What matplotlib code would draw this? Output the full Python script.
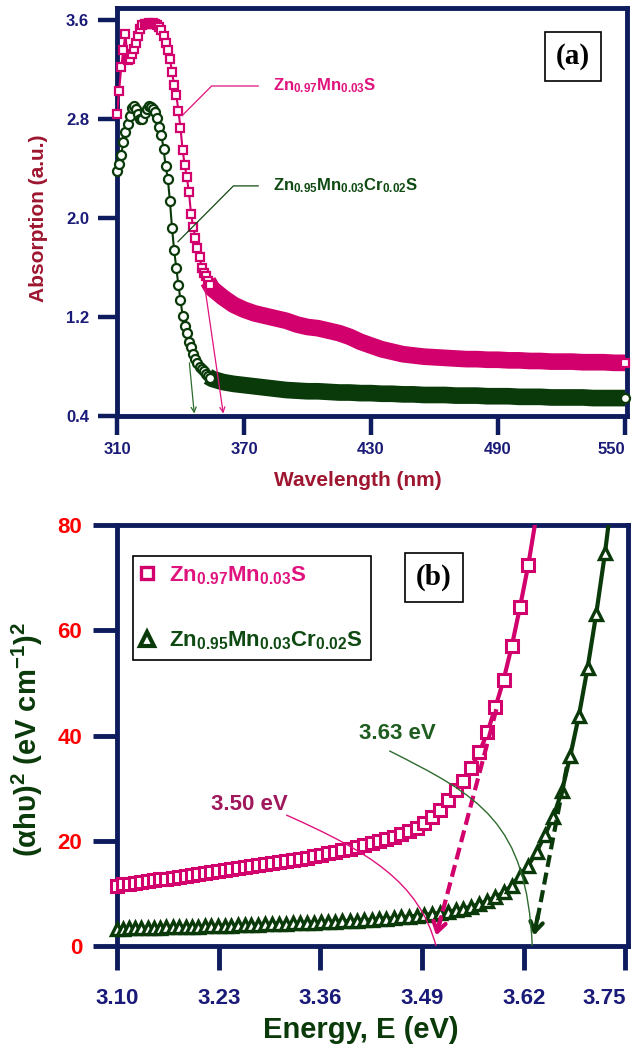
import matplotlib
matplotlib.use('Agg')
import matplotlib.pyplot as plt
from matplotlib.lines import Line2D
from matplotlib.path import Path
from matplotlib.patches import PathPatch
from matplotlib.ticker import FormatStrFormatter

plt.rcParams['font.family'] = ['Liberation Sans', 'DejaVu Sans']
plt.rcParams['font.weight'] = 'bold'
plt.rcParams['axes.labelweight'] = 'bold'
plt.rcParams['mathtext.fontset'] = 'custom'
plt.rcParams['mathtext.rm'] = 'Liberation Sans:bold'
plt.rcParams['mathtext.it'] = 'Liberation Sans:bold'
plt.rcParams['mathtext.bf'] = 'Liberation Sans:bold'
plt.rcParams['mathtext.default'] = 'rm'

# ---- panel (a): absorption spectra ----
wl_dense = list(range(310, 355))          # 1 nm steps near the edge
wl_tail = list(range(355, 551, 5))        # flat tail
wl_a = wl_dense + wl_tail

abs_mn = [2.84, 3.03, 3.22, 3.36, 3.49, 3.28, 3.29, 3.33, 3.37, 3.42,
          3.47, 3.53, 3.56, 3.57, 3.57, 3.58, 3.57, 3.58, 3.57, 3.56,
          3.55, 3.52, 3.47, 3.42, 3.36, 3.29, 3.18, 3.08, 3.00, 2.87,
          2.73, 2.55, 2.43, 2.33, 2.21, 2.03, 1.93, 1.84, 1.76, 1.69,
          1.60, 1.56, 1.53, 1.49, 1.46,
          1.43, 1.36, 1.30, 1.26, 1.23, 1.21, 1.19, 1.17, 1.14, 1.12,
          1.11, 1.09, 1.07, 1.04, 1.00, 0.97, 0.94, 0.92, 0.90, 0.89,
          0.88, 0.875, 0.87, 0.865, 0.86, 0.86, 0.855, 0.855, 0.85, 0.85,
          0.845, 0.845, 0.84, 0.84, 0.84, 0.835, 0.835, 0.835, 0.83, 0.83]

abs_mncr = [2.38, 2.44, 2.51, 2.62, 2.70, 2.76, 2.83, 2.89, 2.91, 2.88,
            2.84, 2.80, 2.80, 2.85, 2.88, 2.91, 2.90, 2.88, 2.86, 2.81,
            2.74, 2.67, 2.56, 2.42, 2.32, 2.14, 1.92, 1.74, 1.60, 1.46,
            1.34, 1.21, 1.13, 1.07, 1.00, 0.96, 0.90, 0.86, 0.83, 0.80,
            0.78, 0.76, 0.74, 0.72, 0.71,
            0.70, 0.675, 0.66, 0.65, 0.64, 0.63, 0.62, 0.61, 0.605, 0.60,
            0.60, 0.595, 0.59, 0.59, 0.585, 0.585, 0.58, 0.58, 0.575, 0.575,
            0.57, 0.57, 0.57, 0.565, 0.565, 0.565, 0.56, 0.56, 0.56, 0.555,
            0.555, 0.555, 0.55, 0.55, 0.55, 0.55, 0.545, 0.545, 0.545, 0.545]

xticks_a = [310, 370, 430, 490, 550]
yticks_a = [0.4, 1.2, 2.0, 2.8, 3.6]

# ---- panel (b): Tauc plot, (alpha h nu)^2 vs energy ----
wl_b_mn = list(range(400, 340, -1))
wl_b_mncr = list(range(400, 331, -1))
e_mn = [1240.0 / w for w in wl_b_mn]
e_mncr = [1240.0 / w for w in wl_b_mncr]

tauc_mn = [11.5, 11.7, 11.8, 12.0, 12.2, 12.3, 12.5, 12.7, 12.8, 13.0,
           13.2, 13.4, 13.5, 13.7, 13.9, 14.0, 14.2, 14.4, 14.6, 14.8,
           15.0, 15.2, 15.4, 15.6, 15.8, 16.0, 16.2, 16.4, 16.6, 16.8,
           17.1, 17.3, 17.6, 17.9, 18.2, 18.5, 18.8, 19.2, 19.5, 19.9,
           20.3, 20.7, 21.2, 21.8, 22.5, 23.3, 24.6, 25.9, 27.8, 29.7,
           31.3, 33.9, 36.8, 40.6, 45.4, 50.6, 57.0, 64.4, 72.4, 82.0]

tauc_mncr = [3.3, 3.3, 3.35, 3.4, 3.4, 3.45, 3.5, 3.5, 3.55, 3.6,
             3.6, 3.65, 3.7, 3.7, 3.75, 3.8, 3.85, 3.85, 3.9, 3.95,
             4.0, 4.0, 4.05, 4.1, 4.15, 4.2, 4.25, 4.3, 4.35, 4.4,
             4.45, 4.5, 4.55, 4.6, 4.7, 4.75, 4.8, 4.9, 5.0, 5.1,
             5.2, 5.3, 5.45, 5.6, 5.75, 5.9, 6.1, 6.3, 6.5, 6.8,
             7.1, 7.5, 8.0, 8.6, 9.3, 10.2, 11.5, 13.4, 15.3, 17.9,
             21.1, 24.6, 29.4, 36.2, 43.8, 52.8, 63.1, 74.6, 88.0]

xticks_b = [3.10, 3.23, 3.36, 3.49, 3.62, 3.75]
yticks_b = [0, 20, 40, 60, 80]

lab_mn = r'Zn$_{0.97}$Mn$_{0.03}$S'
lab_mncr = r'Zn$_{0.95}$Mn$_{0.03}$Cr$_{0.02}$S'

pink = '#D2006C'
pink_txt = '#E0127E'
green = '#0A3A0A'
green_txt = '#0F4A12'
navy = '#0E1C5E'
maroon = '#9E1630'

fig = plt.figure(figsize=(6.41, 10.5), dpi=100)
ax1 = fig.add_axes([0.1825, 0.6038, 0.7956, 0.3886])
ax2 = fig.add_axes([0.1825, 0.0990, 0.7972, 0.4010])

for ax in (ax1, ax2):
    for s in ax.spines.values():
        s.set_linewidth(3.5)
        s.set_color(navy)

# ---------- (a) ----------
n = len(wl_dense)
last = len(wl_a) - 1
ax1.plot(wl_a[n - 2:], abs_mn[n - 2:], color=pink, lw=12, solid_capstyle='butt', zorder=2)
ax1.plot(wl_a[n - 2:], abs_mncr[n - 2:], color=green, lw=12, solid_capstyle='butt', zorder=2)
ax1.plot(wl_a[:n], abs_mn[:n], color=pink, lw=1.5, zorder=3)
ax1.plot(wl_a[:n], abs_mncr[:n], color=green, lw=1.5, zorder=3)
ax1.plot(wl_a, abs_mn, ls='none', marker='s', ms=6, mfc='white', mec=pink, mew=1.6,
         markevery=list(range(n)) + [last], clip_on=False, zorder=4)
ax1.plot(wl_a, abs_mncr, ls='none', marker='o', ms=6.5, mfc='white', mec=green, mew=1.6,
         markevery=list(range(n)) + [last], clip_on=False, zorder=4)

ax1.set_xlim(310, 550.9)
ax1.set_ylim(0.4, 3.7)
ax1.set_xticks(xticks_a)
ax1.set_yticks(yticks_a)
ax1.yaxis.set_major_formatter(FormatStrFormatter('%.1f'))
ax1.tick_params(direction='out', length=14, width=3.2, color=navy, labelcolor='#1A1A78',
                labelsize=12)
ax1.tick_params(axis='y', pad=6)
ax1.tick_params(axis='x', pad=5)
ax1.get_xticklabels()[-1].set_ha('right')

ax1.set_ylabel('Absorption (a.u.)', color=maroon, fontsize=15)
ax1.set_xlabel('Wavelength (nm)', color=maroon, fontsize=15)
ax1.yaxis.set_label_coords(-0.153, 0.485)
ax1.xaxis.set_label_coords(0.4725, -0.157)
ax1.yaxis.label.set_va('center')
ax1.xaxis.label.set_va('center')

# labels with leader lines and band-edge arrows
ax1.plot([376.7, 354.7, 340.8], [3.069, 3.069, 2.83], color=pink_txt, lw=0.9, zorder=5)
ax1.plot([376.7, 365.0, 338.8], [2.261, 2.261, 1.81], color=green_txt, lw=0.9, zorder=5)
ax1.annotate('', xy=(360.2, 0.42), xytext=(351.6, 1.43),
             arrowprops=dict(arrowstyle='->', color=pink_txt, lw=0.9, mutation_scale=9,
                             shrinkA=0, shrinkB=0), zorder=5)
ax1.annotate('', xy=(346.5, 0.42), xytext=(344.2, 0.83),
             arrowprops=dict(arrowstyle='->', color='#2E6B2E', lw=0.9, mutation_scale=9,
                             shrinkA=0, shrinkB=0), zorder=5)
ax1.text(383.8, 3.07, lab_mn, color=pink_txt, fontsize=12, va='center')
ax1.text(383.8, 2.26, lab_mncr, color=green_txt, fontsize=12, va='center')
ax1.text(0.894, 0.882, '(a)', transform=ax1.transAxes, fontsize=21, family='Liberation Serif',
         weight='bold', ha='center', va='center',
         bbox=dict(boxstyle='square,pad=0.38', fc='white', ec='black', lw=1.2))

# ---------- (b) ----------
ax2.plot(e_mn, tauc_mn, color=pink, lw=3, zorder=3)
ax2.plot(e_mncr, tauc_mncr, color=green, lw=3, zorder=3)
ax2.plot(e_mn, tauc_mn, ls='none', marker='s', ms=8, mfc='white', mec=pink, mew=2.2,
         markevery=list(range(len(e_mn) - 1)), clip_on=False, zorder=4)
ax2.plot(e_mncr, tauc_mncr, ls='none', marker='^', ms=9, mfc='white', mec=green, mew=2.4,
         markevery=list(range(len(e_mncr) - 1)), clip_on=False, zorder=4)

ax2.set_xlim(3.10, 3.7532)
ax2.set_ylim(0, 80)
ax2.set_xticks(xticks_b)
ax2.set_yticks(yticks_b)
ax2.xaxis.set_major_formatter(FormatStrFormatter('%.2f'))
ax2.tick_params(direction='out', length=17, width=3.5, color=navy, labelsize=16)
ax2.tick_params(axis='x', labelcolor='#1A1A78', pad=13)
ax2.tick_params(axis='y', labelcolor='#FF0000', pad=8)
ax2.get_xticklabels()[-1].set_ha('right')

ax2.set_ylabel(r'($\alpha$h$\upsilon$)$^{2}$ (eV cm$^{-1}$)$^{2}$', color=green, fontsize=21)
ax2.set_xlabel('Energy, E (eV)', color=green, fontsize=21)
ax2.yaxis.set_label_coords(-0.176, 0.49)
ax2.xaxis.set_label_coords(0.477, -0.2)
ax2.yaxis.label.set_va('center')
ax2.xaxis.label.set_va('center')

# extrapolated dashed tangents
ax2.plot([3.585, 3.509], [45, 2.5], color=pink, lw=3, ls=(0, (2.9, 1.4)), zorder=6)
ax2.annotate('', xy=(3.508, 2.0), xytext=(3.514, 5.5),
             arrowprops=dict(arrowstyle='->,head_length=0.7,head_width=0.45', color=pink, lw=3,
                             shrinkA=0, shrinkB=0), zorder=6)
ax2.plot([3.675, 3.634], [34, 2.5], color=green, lw=3, ls=(0, (2.9, 1.4)), zorder=6)
ax2.annotate('', xy=(3.633, 2.0), xytext=(3.638, 5.8),
             arrowprops=dict(arrowstyle='->,head_length=0.7,head_width=0.45', color=green, lw=3,
                             shrinkA=0, shrinkB=0), zorder=6)

# thin curved leaders from the gap values
curve_mn = Path([(3.3163, 24.9), (3.4225, 17.9), (3.4862, 12.1), (3.5078, 0.0)],
                [Path.MOVETO, Path.CURVE4, Path.CURVE4, Path.CURVE4])
curve_mncr = Path([(3.448, 37.1), (3.5627, 28.5), (3.6238, 23.7), (3.6308, 0.0)],
                  [Path.MOVETO, Path.CURVE4, Path.CURVE4, Path.CURVE4])
ax2.add_patch(PathPatch(curve_mn, fc='none', ec=pink_txt, lw=1.0, zorder=7))
ax2.add_patch(PathPatch(curve_mncr, fc='none', ec='#2E6B2E', lw=1.0, zorder=7))
ax2.text(3.2695, 26.9, '3.50 eV', color='#A0185C', fontsize=16, ha='center', va='center')
ax2.text(3.458, 40.4, '3.63 eV', color='#1F5C1F', fontsize=16, ha='center', va='center')

ax2.text(0.620, 0.875, '(b)', transform=ax2.transAxes, fontsize=21, family='Liberation Serif',
         weight='bold', ha='center', va='center',
         bbox=dict(boxstyle='square,pad=0.38', fc='white', ec='black', lw=1.2))

handles = [Line2D([], [], ls='none', marker='s', ms=9, mfc='white', mec=pink, mew=2.4),
           Line2D([], [], ls='none', marker='^', ms=10, mfc='white', mec=green, mew=3.0)]
leg = ax2.legend(handles, [lab_mn, lab_mncr], loc='upper left', bbox_to_anchor=(0.031, 0.926),
                 fontsize=16, frameon=True, fancybox=False, edgecolor='black', framealpha=1,
                 borderaxespad=0, labelspacing=1.95, handlelength=0.6, handletextpad=0.7,
                 borderpad=0.35, labelcolor=[pink_txt, green_txt])
leg.get_frame().set_linewidth(1.2)

fig.savefig('out.png', dpi=100)
